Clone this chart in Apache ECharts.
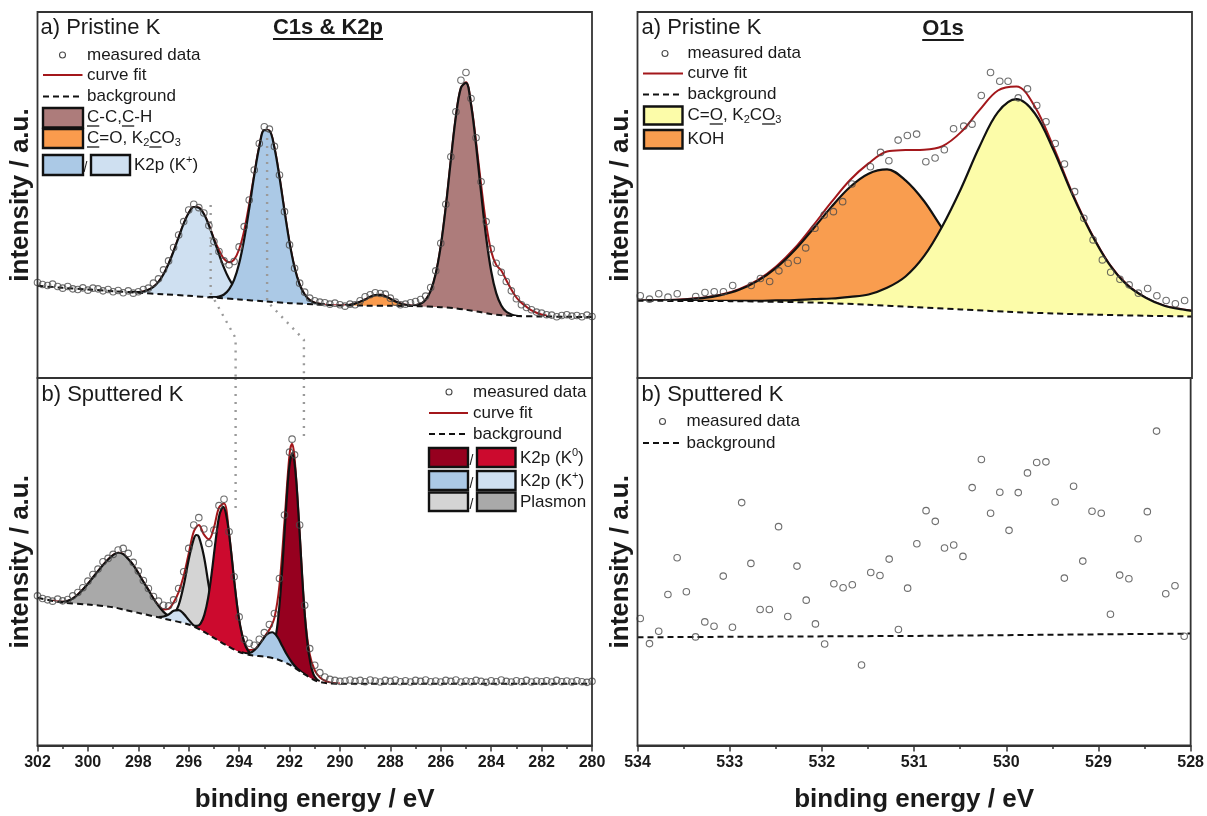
<!DOCTYPE html>
<html>
<head>
<meta charset="utf-8">
<script src="https://cdn.jsdelivr.net/npm/echarts@6/dist/echarts.min.js"></script>
<style>
  html, body { margin: 0; padding: 0; background: #fff; }
  #main { width: 1207px; height: 816px; }
</style>
</head>
<body>
<div id="main"></div>
<script>
// intensities are in arbitrary units, 0..1100 = full panel height

// ---- C1s & K2p, a) pristine ----
const c1sBgA = [[302,277],[301,271],[300,266],[299,261],[298,256],[297,251.5],[296,247],[295,241.5],[294,236],[293,230.5],[292,225],[291,221.5],[290,218],[289,217.5],[288,217],[287,216],[286,213],[285.5,210],[285,205],[284.5,199],[284,192],[283.5,188],[283,186],[282,185],[281,184],[280,183]];
const c1sFitA = [[298.4,258],[298.2,258],[298,258],[297.8,260],[297.6,265],[297.4,274],[297.2,289],[297,312],[296.8,343],[296.6,381],[296.4,423],[296.2,464],[296,496],[295.8,514],[295.6,512],[295.4,493],[295.2,460],[295,418],[294.8,385],[294.6,358],[294.4,348],[294.2,356],[294,387],[293.8,443],[293.6,523],[293.4,612],[293.2,696],[293,745],[292.8,743],[292.6,692],[292.4,604],[292.2,502],[292,407],[291.8,332],[291.6,281],[291.4,251],[291.2,234],[291,226],[290.8,223],[290.6,220],[290.4,219],[290.2,219],[290,218],[289.8,219],[289.6,220],[289.4,223],[289.2,229],[289,236],[288.8,244],[288.6,249],[288.4,250],[288.2,246],[288,238],[287.8,230],[287.6,224],[287.4,220],[287.2,218],[287,219],[286.8,223],[286.6,235],[286.4,262],[286.2,313],[286,397],[285.8,515],[285.6,655],[285.4,786],[285.2,872],[285,889],[284.8,825],[284.6,710],[284.4,581],[284.2,463],[284,381],[283.8,340],[283.6,323],[283.4,294],[283.2,266],[283,242],[282.8,226],[282.6,214],[282.4,203],[282.2,196],[282,191],[281.8,188]];
const k2pPlusHalfA = [[298.4,258],[298.2,258],[298,258],[297.8,260],[297.6,265],[297.4,274],[297.2,289],[297,312],[296.8,343],[296.6,381],[296.4,423],[296.2,464],[296,496],[295.8,514],[295.6,512],[295.4,493],[295.2,459],[295,416],[294.8,372],[294.6,331],[294.4,298],[294.2,274],[294,257],[293.8,246],[293.6,239],[293.4,235],[293.2,233],[293,231]];
const k2pPlus32A = [[295.2,243],[295,243],[294.8,245],[294.6,251],[294.4,266],[294.2,295],[294,344],[293.8,417],[293.6,509],[293.4,609],[293.2,695],[293,745],[292.8,743],[292.6,692],[292.4,604],[292.2,502],[292,407],[291.8,332],[291.6,281],[291.4,251],[291.2,234],[291,226],[290.8,223],[290.6,221]];
const c1sCOA = [[289.8,218],[289.6,220],[289.4,223.5],[289.2,229],[289,236],[288.8,244],[288.6,249],[288.4,250],[288.2,246],[288,238],[287.8,230],[287.6,224],[287.4,220],[287.2,217.5]];
const c1sCCA = [[287.4,216.6],[287.2,217],[287,218.6],[286.8,223],[286.6,235],[286.4,262],[286.2,313],[286,397],[285.8,515],[285.6,655],[285.4,786],[285.2,872],[285,887],[284.8,822],[284.6,700],[284.4,556],[284.2,423],[284,321],[283.8,255],[283.6,218],[283.4,199],[283.2,191],[283,187],[282.8,186]];
const c1sMeasA = [[302,287],[301.8,281],[301.6,278],[301.4,282],[301.2,275],[301,270],[300.8,275],[300.6,268],[300.4,266],[300.2,271],[300,264],[299.8,270],[299.6,268],[299.4,262],[299.2,266],[299,259],[298.8,263],[298.6,256],[298.4,262],[298.2,255],[298,259],[297.8,266],[297.6,270],[297.4,285],[297.2,298],[297,325],[296.8,352],[296.6,392],[296.4,430],[296.2,470],[296,505],[295.8,522],[295.6,512],[295.4,496],[295.2,458],[295,410],[294.8,380],[294.6,352],[294.4,340],[294.2,350],[294,394],[293.8,455],[293.6,535],[293.4,625],[293.2,705],[293,755],[292.8,748],[292.6,696],[292.4,610],[292.2,500],[292,400],[291.8,330],[291.6,285],[291.4,258],[291.2,240],[291,232],[290.8,228],[290.6,226],[290.4,222],[290.2,225],[290,220],[289.8,216],[289.6,222],[289.4,220],[289.2,232],[289,244],[288.8,250],[288.6,256],[288.4,254],[288.2,252],[288,240],[287.8,228],[287.6,220],[287.4,222],[287.2,226],[287,230],[286.8,236],[286.6,246],[286.4,272],[286.2,322],[286,405],[285.8,522],[285.6,665],[285.4,800],[285.2,895],[285,918],[284.8,840],[284.6,722],[284.4,590],[284.2,470],[284,388],[283.8,345],[283.6,318],[283.4,290],[283.2,262],[283,238],[282.8,220],[282.6,212],[282.4,205],[282.2,198],[282,195],[281.8,190],[281.6,189],[281.4,184],[281.2,188],[281,190],[280.8,186],[280.6,188],[280.4,184],[280.2,189],[280,185]];

// dotted guides linking the K2p peaks of both spectra
const guideTop1 = [[295.13,520],[295.13,255],[294.14,120],[294.14,0]];
const guideTop2 = [[292.89,745],[292.89,230],[291.43,115],[291.43,0]];
const guideBot1 = [[294.14,1100],[294.14,700]];
const guideBot2 = [[291.43,1100],[291.43,925]];

// ---- C1s & K2p, b) sputtered ----
const c1sBgB = [[302,442],[301,428],[300,422],[299,414],[298.5,405],[298,397],[297,380],[296,362],[295.5,345],[295,322],[294.5,300],[294,280],[293.5,270],[293,266],[292.5,258],[292,242],[291.5,218],[291,195],[290.5,186],[290,185],[285,185],[280,185]];
const c1sFitB = [[301.4,434],[301.2,431],[301,430],[300.8,433],[300.6,440],[300.4,452],[300.2,467],[300,484],[299.8,503],[299.6,522],[299.4,540],[299.2,557],[299,570],[298.8,577],[298.6,573],[298.4,558],[298.2,540],[298,516],[297.8,490],[297.6,466],[297.4,440],[297.2,419],[297,407],[296.8,409],[296.6,428],[296.4,459],[296.2,508],[296,575],[295.8,640],[295.6,660],[295.4,632],[295.2,617],[295,652],[294.8,712],[294.6,724],[294.4,635],[294.2,496],[294,376],[293.8,311],[293.6,286],[293.4,287],[293.2,303],[293,325],[292.8,347],[292.6,382],[292.4,480],[292.2,672],[292,872],[291.9,903],[291.8,862],[291.6,637],[291.4,396],[291.2,273],[291,225],[290.8,204],[290.6,194],[290.4,189],[290.2,186.5],[290,185.5]];
const plasmonDarkB = [[301.2,431],[301,430],[300.8,433],[300.6,440],[300.4,452],[300.2,467],[300,484],[299.8,503],[299.6,522],[299.4,540],[299.2,557],[299,570],[298.8,577],[298.6,573],[298.4,558],[298.2,540],[298,516],[297.8,490],[297.6,466],[297.4,440],[297.2,418],[297,400],[296.8,388],[296.6,380],[296.4,372],[296.2,367]];
const plasmonLightB = [[297,381],[296.8,381],[296.6,391],[296.4,420],[296.2,479],[296,557],[295.8,618],[295.7,630],[295.6,625],[295.4,567],[295.2,476],[295,394],[294.8,341],[294.6,312],[294.4,298],[294.2,288]];
const k2pPlusHalfB = [[297.2,384],[297,386],[296.8,392],[296.6,403],[296.4,405],[296.2,394],[296,376],[295.8,359],[295.6,349],[295.4,340]];
const k2pZeroHalfB = [[295.83,358],[295.68,358],[295.53,365],[295.38,391],[295.23,442],[295.08,521],[294.93,615],[294.78,691],[294.63,714],[294.48,676],[294.33,588],[294.18,482],[294.03,391],[293.88,330],[293.73,295],[293.58,278],[293.43,271]];
const k2pZero32B = [[292.97,267.5],[292.85,269],[292.73,278],[292.61,303],[292.49,355],[292.37,446],[292.25,575],[292.13,719],[292.01,834],[291.89,875],[291.77,823],[291.65,698],[291.53,545],[291.41,405],[291.29,306],[291.17,246],[291.05,213],[290.93,199],[290.81,192.5]];
const k2pPlus32B = [[293.89,279],[293.69,276],[293.49,280],[293.29,293],[293.09,314],[292.89,333],[292.69,339],[292.49,326],[292.29,298],[292.09,270],[291.89,247],[291.69,230],[291.49,218],[291.29,208]];
const c1sMeasB = [[302,448],[301.8,440],[301.6,436],[301.4,432],[301.2,438],[301,433],[300.8,437],[300.6,448],[300.4,458],[300.2,472],[300,492],[299.8,512],[299.6,528],[299.4,550],[299.2,560],[299,572],[298.8,585],[298.6,590],[298.4,575],[298.2,548],[298,522],[297.8,494],[297.6,470],[297.4,446],[297.2,432],[297,420],[296.8,418],[296.6,436],[296.4,470],[296.2,520],[296,590],[295.8,660],[295.6,682],[295.4,648],[295.2,605],[295,645],[294.8,718],[294.6,737],[294.4,640],[294.2,505],[294,385],[293.8,318],[293.6,306],[293.4,300],[293.2,318],[293,338],[292.8,362],[292.6,395],[292.4,500],[292.2,690],[292,878],[291.9,917],[291.8,870],[291.6,660],[291.4,420],[291.2,290],[291,240],[290.8,218],[290.6,205],[290.4,198],[290.2,195],[290,192],[289.8,193],[289.6,196],[289.4,192],[289.2,195],[289,191],[288.8,196],[288.6,193],[288.4,190],[288.2,195],[288,192],[287.8,196],[287.6,191],[287.4,194],[287.2,190],[287,195],[286.8,192],[286.6,196],[286.4,191],[286.2,193],[286,190],[285.8,195],[285.6,192],[285.4,196],[285.2,190],[285,193],[284.8,191],[284.6,195],[284.4,192],[284.2,189],[284,194],[283.8,191],[283.6,196],[283.4,192],[283.2,190],[283,194],[282.8,191],[282.6,195],[282.4,190],[282.2,193],[282,191],[281.8,194],[281.6,190],[281.4,195],[281.2,191],[281,193],[280.8,190],[280.6,194],[280.4,191],[280.2,189],[280,192]];

// ---- O1s, a) pristine ----
const o1sBgA = [[534,232],[533,231],[532.5,229],[532,226],[531.5,220],[531,213],[530.5,206],[530,199],[529.5,194],[529,190],[528.5,187],[528,185]];
const o1sFitA = [[534,232],[533.9,233],[533.7,234.5],[533.5,237],[533.3,241],[533.1,250],[532.9,267],[532.7,294],[532.5,335],[532.3,390],[532.1,458],[531.9,529],[531.7,595],[531.5,645],[531.3,681],[531.1,685],[530.9,686],[530.7,697],[530.5,739],[530.3,805],[530.1,864],[529.9,876],[529.7,815],[529.5,695],[529.3,559],[529.1,441],[528.9,345],[528.7,280],[528.5,241],[528.3,217],[528.1,206],[528,202]];
const o1sKohA = [[534,232],[533.9,233],[533.7,234],[533.5,236],[533.3,240],[533.1,249],[532.9,265],[532.7,292],[532.5,331],[532.3,384],[532.1,448],[531.9,515],[531.7,574],[531.5,614],[531.3,627],[531.1,594],[530.9,532],[530.7,449],[530.5,376],[530.3,313],[530.1,265],[529.9,236],[529.7,216],[529.5,203],[529.3,196],[529.1,193],[528.9,190]];
const o1sCarbA = [[534,232],[533.5,232],[533.1,232],[532.9,232],[532.7,232],[532.5,233],[532.3,234],[532.1,237],[531.9,239],[531.7,244],[531.5,251],[531.3,271],[531.1,305],[530.9,366],[530.7,457],[530.5,569],[530.3,695],[530.1,799],[529.9,838],[529.7,795],[529.5,686],[529.3,555],[529.1,439],[528.9,344],[528.7,279],[528.5,241],[528.3,217],[528.1,206],[528,202]];
const o1sMeasA = [[533.97,247],[533.87,237],[533.77,253],[533.67,243],[533.57,253],[533.37,245],[533.27,257],[533.17,259],[533.07,259],[532.97,278],[532.77,278],[532.67,299],[532.57,290],[532.47,322],[532.37,345],[532.27,353],[532.18,391],[532.08,450],[531.98,490],[531.88,500],[531.78,530],[531.68,583],[531.48,635],[531.37,678],[531.28,653],[531.18,715],[531.08,729],[530.98,733],[530.88,650],[530.78,661],[530.68,686],[530.58,749],[530.47,757],[530.38,763],[530.28,849],[530.18,918],[530.08,892],[529.99,892],[529.88,842],[529.78,869],[529.68,819],[529.58,770],[529.48,705],[529.38,643],[529.27,560],[529.17,480],[529.07,415],[528.97,355],[528.88,318],[528.78,297],[528.68,280],[528.58,255],[528.48,269],[528.38,247],[528.28,233],[528.18,223],[528.08,233]];

// ---- O1s, b) sputtered ----
const o1sBgB = [[534,324],[531,328],[528,335]];
const o1sMeasB = [[533.97,380],[533.87,305],[533.77,342],[533.67,452],[533.57,562],[533.47,460],[533.37,325],[533.27,370],[533.17,357],[533.07,507],[532.97,354],[532.87,727],[532.77,545],[532.67,407],[532.57,407],[532.47,655],[532.37,386],[532.27,537],[532.17,435],[532.07,364],[531.97,304],[531.87,484],[531.77,472],[531.67,481],[531.57,241],[531.47,518],[531.37,509],[531.27,558],[531.17,347],[531.07,471],[530.97,604],[530.87,703],[530.77,671],[530.67,591],[530.57,600],[530.47,566],[530.37,772],[530.27,856],[530.17,695],[530.07,758],[529.97,644],[529.87,757],[529.77,816],[529.67,847],[529.57,849],[529.47,729],[529.37,501],[529.27,776],[529.17,552],[529.07,701],[528.97,695],[528.87,393],[528.77,510],[528.67,499],[528.57,619],[528.47,700],[528.37,941],[528.27,454],[528.17,478],[528.07,327]];

const fontFamily = '"Liberation Sans", Arial, sans-serif';
const ink = '#1a1a1a';
const fitColor = '#a3171b';
const colors = {
  cc: '#ad7c7b', co: '#fa9b4d', kPlus32: '#abc9e6', kPlusHalf: '#cfe0f1',
  k032: '#96001f', k0Half: '#cc0a2e', plasLight: '#d4d4d4', plasDark: '#a9a9a9',
  carb: '#fcfca9', koh: '#f99d4f'
};

let chartDom = document.getElementById('main');
let myChart = echarts.init(chartDom);

function xAxisFor(gridIndex, min, max, interval, bottom) {
  return {
    type: 'value', gridIndex: gridIndex, min: min, max: max, interval: interval, inverse: true,
    axisLine: { show: bottom, onZero: false, lineStyle: { color: '#333', width: 1.8 } },
    axisTick: { show: bottom, length: 6, lineStyle: { color: '#333', width: 1.5 } },
    minorTick: { show: bottom, splitNumber: 2, length: 3.5, lineStyle: { color: '#333', width: 1.5 } },
    axisLabel: { show: bottom, fontFamily: fontFamily, fontWeight: 'bold', fontSize: 16, color: ink, margin: 9, showMinLabel: true, showMaxLabel: true },
    splitLine: { show: false },
    name: bottom ? 'binding energy / eV' : '',
    nameLocation: 'middle', nameGap: 41,
    nameTextStyle: { fontFamily: fontFamily, fontWeight: 'bold', fontSize: 26, color: ink },
    z: 31
  };
}

function yAxisFor(gridIndex) {
  return {
    type: 'value', gridIndex: gridIndex, min: 0, max: 1100,
    axisLine: { show: false }, axisTick: { show: false }, axisLabel: { show: false }, splitLine: { show: false },
    name: 'intensity / a.u.', nameLocation: 'middle', nameGap: 4,
    nameTextStyle: { fontFamily: fontFamily, fontWeight: 'bold', fontSize: 26, color: ink }
  };
}

function fitLine(idx, data) {
  return { type: 'line', xAxisIndex: idx, yAxisIndex: idx, data: data, smooth: 0.35, symbol: 'none',
    lineStyle: { color: fitColor, width: 2 }, z: 3, silent: true };
}
function component(idx, data, color, z) {
  return { type: 'line', xAxisIndex: idx, yAxisIndex: idx, data: data, smooth: 0.35, symbol: 'none',
    lineStyle: { color: '#111', width: 2.2 }, areaStyle: { color: color, opacity: 1 }, z: z, silent: true };
}
// background: dashed line, white underneath so fills end on it
function background(idx, data, smooth) {
  return { type: 'line', xAxisIndex: idx, yAxisIndex: idx, data: data, smooth: smooth, symbol: 'none',
    lineStyle: { color: '#111', width: 2, type: [6, 4] }, areaStyle: { color: '#fff', opacity: 1 }, z: 12, silent: true };
}
function guide(idx, data) {
  return { type: 'line', xAxisIndex: idx, yAxisIndex: idx, data: data, symbol: 'none',
    lineStyle: { color: '#9a9a9a', width: 2.4, type: [2, 6] }, z: 13, silent: true };
}
function measured(idx, data) {
  return { type: 'scatter', xAxisIndex: idx, yAxisIndex: idx, data: data, symbol: 'circle', symbolSize: 6.5,
    itemStyle: { color: 'rgba(255,255,255,0)', borderColor: '#4a4a4a', borderWidth: 1.1 }, z: 14, silent: true };
}

// legend pieces
const measureCtx = document.createElement('canvas').getContext('2d');
function textWidth(str, font) { measureCtx.font = font; return measureCtx.measureText(str).width; }

function richText(x, y, parts, size, bold, center) {
  const els = [];
  const weight = bold ? 'bold ' : '';
  const fonts = parts.map(p => weight + ((p[1] === 'sub' || p[1] === 'sup') ? Math.round(size * 0.65) : size) + 'px ' + fontFamily);
  const widths = parts.map((p, i) => textWidth(p[0], fonts[i]));
  let cx = center ? x - widths.reduce((a, b) => a + b, 0) / 2 : x;
  parts.forEach((p, i) => {
    const dy = p[1] === 'sub' ? size * 0.28 : (p[1] === 'sup' ? -size * 0.3 : 0);
    els.push({ type: 'text', x: cx, y: y + dy, z: 100, silent: true,
      style: { text: p[0], font: fonts[i], fill: ink, textAlign: 'left', align: 'left', textVerticalAlign: 'middle', verticalAlign: 'middle' } });
    if (p[1] === 'u') {
      els.push({ type: 'line', z: 100, silent: true,
        shape: { x1: cx, y1: y + size * 0.5, x2: cx + widths[i], y2: y + size * 0.5 },
        style: { stroke: ink, lineWidth: bold ? 2 : 1.3 } });
    }
    cx += widths[i];
  });
  return els;
}
function swatch(x, y, w, h, fill) {
  return { type: 'rect', z: 100, silent: true, shape: { x: x, y: y, width: w, height: h }, style: { fill: fill, stroke: '#111', lineWidth: 2.4 } };
}
function dot(cx, cy) {
  return { type: 'circle', z: 100, silent: true, shape: { cx: cx, cy: cy, r: 3 }, style: { fill: 'none', stroke: '#4a4a4a', lineWidth: 1.1 } };
}
function legLine(x1, x2, y, dashed) {
  return { type: 'line', z: 100, silent: true, shape: { x1: x1, y1: y, x2: x2, y2: y },
    style: dashed ? { stroke: '#111', lineWidth: 2, lineDash: [6, 4] } : { stroke: fitColor, lineWidth: 2 } };
}
function slash(x, y) {
  return { type: 'text', x: x, y: y, z: 100, silent: true, style: { text: '/', font: '14px ' + fontFamily, fill: ink, textVerticalAlign: 'middle', verticalAlign: 'middle' } };
}

const L = 17;
let graphics = [].concat(
  // panel labels and titles
  richText(40.5, 28, [['a) Pristine K', '']], 22, false),
  richText(328, 28, [['C1s & K2p', 'u']], 22, true, true),
  richText(41.5, 395, [['b) Sputtered K', '']], 22, false),
  richText(641.5, 28, [['a) Pristine K', '']], 22, false),
  richText(943, 29, [['O1s', 'u']], 22, true, true),
  richText(641.5, 395, [['b) Sputtered K', '']], 22, false),

  // legend C1s a)
  [dot(62.5, 55), legLine(43, 82.5, 75, false), legLine(43, 80, 96.5, true),
   swatch(43, 108, 40, 19.5, colors.cc), swatch(43, 129, 40, 19, colors.co),
   swatch(43, 155, 40, 20, colors.kPlus32), slash(83.5, 168), swatch(91, 155, 39, 20, colors.kPlusHalf)],
  richText(87, 55, [['measured data', '']], L),
  richText(87, 75, [['curve fit', '']], L),
  richText(87, 96.5, [['background', '']], L),
  richText(87, 117.5, [['C', 'u'], ['-C,', ''], ['C', 'u'], ['-H', '']], L),
  richText(87, 138.5, [['C', 'u'], ['=O, K', ''], ['2', 'sub'], ['C', 'u'], ['O', ''], ['3', 'sub']], L),
  richText(134, 165, [['K2p (K', ''], ['+', 'sup'], [')', '']], L),

  // legend C1s b)
  [dot(449, 392), legLine(429, 468, 413, false), legLine(429, 468, 434, true),
   swatch(429, 448, 39, 19, colors.k032), slash(469.5, 461), swatch(477, 448, 38.5, 19, colors.k0Half),
   swatch(429, 471, 39, 19, colors.kPlus32), slash(469.5, 484), swatch(477, 471, 38.5, 19, colors.kPlusHalf),
   swatch(429, 492.5, 39, 18.5, colors.plasLight), slash(469.5, 505), swatch(477, 492.5, 38.5, 18.5, colors.plasDark)],
  richText(473, 392, [['measured data', '']], L),
  richText(473, 413, [['curve fit', '']], L),
  richText(473, 434, [['background', '']], L),
  richText(520, 458, [['K2p (K', ''], ['0', 'sup'], [')', '']], L),
  richText(520, 481, [['K2p (K', ''], ['+', 'sup'], [')', '']], L),
  richText(520, 502, [['Plasmon', '']], L),

  // legend O1s a)
  [dot(665, 53.5), legLine(643, 683, 73.5, false), legLine(643, 680, 94.5, true),
   swatch(644, 106.5, 38.5, 18, colors.carb), swatch(644, 130, 38.5, 18.5, colors.koh)],
  richText(687.5, 53.5, [['measured data', '']], L),
  richText(687.5, 73.5, [['curve fit', '']], L),
  richText(687.5, 94.5, [['background', '']], L),
  richText(687.5, 115.5, [['C=', ''], ['O', 'u'], [', K', ''], ['2', 'sub'], ['C', ''], ['O', 'u'], ['3', 'sub']], L),
  richText(687.5, 139, [['KOH', '']], L),

  // legend O1s b)
  [dot(662.5, 421.5), legLine(643, 680, 443, true)],
  richText(686.5, 421.5, [['measured data', '']], L),
  richText(686.5, 443, [['background', '']], L)
);

const gridStyle = { show: true, borderColor: '#333', borderWidth: 1.8, backgroundColor: 'transparent', z: 30 };

let option = {
  animation: false,
  backgroundColor: '#fff',
  grid: [
    Object.assign({ left: 37.5, top: 12, width: 554.5, height: 366 }, gridStyle),
    Object.assign({ left: 37.5, top: 378, width: 554.5, height: 367.5 }, gridStyle),
    Object.assign({ left: 637.5, top: 12, width: 554.5, height: 366 }, gridStyle),
    Object.assign({ left: 637.5, top: 378, width: 554.5, height: 367.5 }, gridStyle)
  ],
  xAxis: [
    xAxisFor(0, 280, 302, 2, false),
    xAxisFor(1, 280, 302, 2, true),
    xAxisFor(2, 528, 534, 1, false),
    xAxisFor(3, 528, 534, 1, true)
  ],
  yAxis: [yAxisFor(0), yAxisFor(1), yAxisFor(2), yAxisFor(3)],
  series: [
    // C1s a)
    fitLine(0, c1sFitA),
    component(0, k2pPlusHalfA, colors.kPlusHalf, 4),
    component(0, k2pPlus32A, colors.kPlus32, 5),
    component(0, c1sCOA, colors.co, 6),
    component(0, c1sCCA, colors.cc, 7),
    background(0, c1sBgA, 0.3),
    guide(0, guideTop1),
    guide(0, guideTop2),
    measured(0, c1sMeasA),

    // C1s b)
    fitLine(1, c1sFitB),
    component(1, plasmonDarkB, colors.plasDark, 4),
    component(1, plasmonLightB, colors.plasLight, 5),
    component(1, k2pPlusHalfB, colors.kPlusHalf, 6),
    component(1, k2pZeroHalfB, colors.k0Half, 7),
    component(1, k2pZero32B, colors.k032, 8),
    component(1, k2pPlus32B, colors.kPlus32, 9),
    background(1, c1sBgB, 0.3),
    guide(1, guideBot1),
    guide(1, guideBot2),
    measured(1, c1sMeasB),

    // O1s a)
    fitLine(2, o1sFitA),
    component(2, o1sKohA, colors.koh, 4),
    component(2, o1sCarbA, colors.carb, 5),
    background(2, o1sBgA, 0.3),
    measured(2, o1sMeasA),

    // O1s b)
    background(3, o1sBgB, false),
    measured(3, o1sMeasB)
  ],
  graphic: { elements: graphics }
};

myChart.setOption(option);
</script>
</body>
</html>
